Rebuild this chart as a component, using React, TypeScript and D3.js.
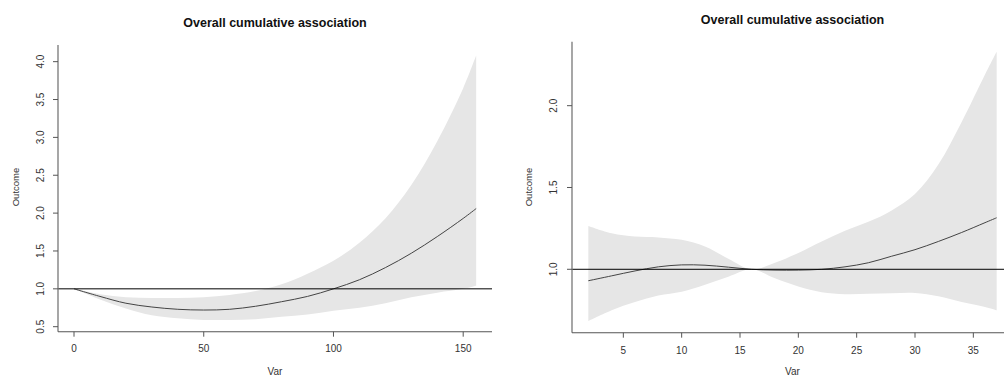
import * as React from 'react'
import * as d3 from 'd3'

// left panel: Var 0..155
const leftVar = [0, 10, 20, 30, 40, 50, 60, 70, 80, 90, 100, 110, 120, 130, 140, 150, 155]
const leftFit = [1.0, 0.9, 0.81, 0.76, 0.73, 0.72, 0.73, 0.77, 0.83, 0.9, 1.0, 1.12, 1.28, 1.47, 1.69, 1.93, 2.06]
const leftLow = [1.0, 0.86, 0.74, 0.65, 0.61, 0.59, 0.59, 0.6, 0.63, 0.66, 0.71, 0.75, 0.81, 0.89, 0.95, 1.0, 1.04]
const leftHigh = [1.0, 0.93, 0.89, 0.88, 0.88, 0.89, 0.92, 0.97, 1.06, 1.2, 1.37, 1.61, 1.93, 2.37, 2.95, 3.65, 4.08]
const leftXTicks = [0, 50, 100, 150]
const leftYTicks = [0.5, 1.0, 1.5, 2.0, 2.5, 3.0, 3.5, 4.0]

// right panel: Var 2..37
const rightVar = [2, 4, 6, 8, 10, 12, 14, 16, 18, 20, 22, 24, 26, 28, 30, 32, 34, 36, 37]
const rightFit = [0.93, 0.96, 0.99, 1.015, 1.027, 1.025, 1.013, 1.0, 0.995, 0.995, 1.0, 1.015, 1.04, 1.08, 1.12, 1.17, 1.225, 1.285, 1.315]
const rightLow = [0.684, 0.75, 0.8, 0.84, 0.863, 0.905, 0.955, 1.0, 0.945, 0.895, 0.86, 0.848, 0.85, 0.853, 0.855, 0.835, 0.8, 0.77, 0.75]
const rightHigh = [1.265, 1.22, 1.2, 1.195, 1.18, 1.14, 1.065, 1.0, 1.04, 1.1, 1.17, 1.235, 1.29, 1.36, 1.46, 1.64, 1.9, 2.19, 2.33]
const rightXTicks = [5, 10, 15, 20, 25, 30, 35]
const rightYTicks = [1.0, 1.5, 2.0]

const title = 'Overall cumulative association'
const font = 'Liberation Sans, Arial, sans-serif'

const Panel = ({xs, fit, low, high, xTicks, yTicks, xDomain, yDomain, box, titleY, yLabX, yTickX, xTickY, xLabY}) => {
  const x = d3.scaleLinear().domain(xDomain).range([box.left, box.right])
  const y = d3.scaleLinear().domain(yDomain).range([box.bottom, box.top])
  const pts = xs.map((v, i) => ({v, f: fit[i], lo: low[i], hi: high[i]}))

  const area = d3.area()
    .x(d => x(d.v))
    .y0(d => y(d.lo))
    .y1(d => y(d.hi))
    .curve(d3.curveCatmullRom.alpha(0.5))
  const line = d3.line()
    .x(d => x(d.v))
    .y(d => y(d.f))
    .curve(d3.curveCatmullRom.alpha(0.5))

  const cx = (box.left + box.right) / 2

  return (
    <g>
      <path d={area(pts)} fill="#e6e6e6" stroke="none" />
      <path d={line(pts)} fill="none" stroke="#444" strokeWidth={1} />
      <line x1={box.left} x2={box.right} y1={y(1)} y2={y(1)} stroke="#000" strokeWidth={1} />

      <line x1={box.left} x2={box.left} y1={box.top} y2={box.bottom} stroke="#777" strokeWidth={1.3} />
      <line x1={box.left} x2={box.right} y1={box.bottom} y2={box.bottom} stroke="#555" strokeWidth={1.1} />

      {xTicks.map(t => (
        <g key={'x' + t}>
          <line x1={x(t)} x2={x(t)} y1={box.bottom} y2={box.bottom + 5} stroke="#555" />
          <text x={x(t)} y={xTickY} textAnchor="middle" fontSize={10} fill="#333" fontFamily={font}>{t}</text>
        </g>
      ))}
      {yTicks.map(t => (
        <g key={'y' + t}>
          <line x1={box.left - 5} x2={box.left} y1={y(t)} y2={y(t)} stroke="#555" />
          <text transform={`translate(${yTickX},${y(t)}) rotate(-90)`} textAnchor="middle" fontSize={10} fill="#333" fontFamily={font}>{t.toFixed(1)}</text>
        </g>
      ))}

      <text x={cx} y={titleY} textAnchor="middle" fontSize={12.5} fontWeight="bold" fill="#111" fontFamily={font}>{title}</text>
      <text x={cx} y={xLabY} textAnchor="middle" fontSize={10} fill="#333" fontFamily={font}>Var</text>
      <text transform={`translate(${yLabX},${187}) rotate(-90)`} textAnchor="middle" fontSize={9.5} fill="#333" fontFamily={font}>Outcome</text>
    </g>
  )
}

export default function App() {
  return (
    <svg width={1004} height={376} style={{position: 'absolute', left: 0, top: 0, background: '#fff'}}>
      <rect width={1004} height={376} fill="#fff" />
      <Panel
        xs={leftVar} fit={leftFit} low={leftLow} high={leftHigh}
        xTicks={leftXTicks} yTicks={leftYTicks}
        xDomain={[-6.17, 161.1]} yDomain={[0.434, 4.22]}
        box={{left: 58, right: 492, top: 45, bottom: 331.7}}
        titleY={27} yLabX={18.5} yTickX={43.5} xTickY={351.5} xLabY={374.5}
      />
      <Panel
        xs={rightVar} fit={rightFit} low={rightLow} high={rightHigh}
        xTicks={rightXTicks} yTicks={rightYTicks}
        xDomain={[0.6, 38.4]} yDomain={[0.6125, 2.391]}
        box={{left: 572, right: 1013, top: 41.7, bottom: 332.7}}
        titleY={23.5} yLabX={531.8} yTickX={556.5} xTickY={353.5} xLabY={374.5}
      />
    </svg>
  )
}
